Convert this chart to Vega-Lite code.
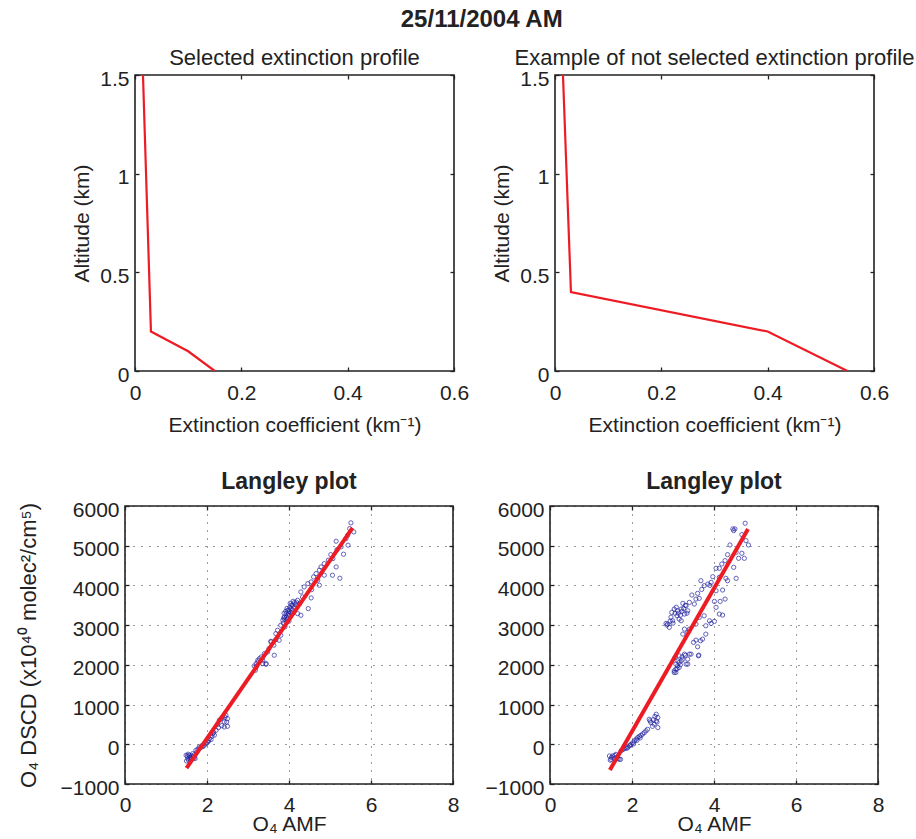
{
  "$schema": "https://vega.github.io/schema/vega-lite/v6.json",
  "background": "white",
  "padding": {"left": 16, "top": 8, "right": 0, "bottom": 0},
  "autosize": {"type": "pad"},
  "title": {"text": "25/11/2004 AM", "fontSize": 24, "fontWeight": "bold", "font": "Liberation Sans", "color": "#222222", "offset": 14, "anchor": "middle", "dx": 16},
  "spacing": 34,
  "config": {
    "view": {"stroke": null},
    "axis": {
      "domain": false, "grid": false,
      "labelFont": "Liberation Sans", "labelFontSize": 21, "labelColor": "#222222",
      "titleFont": "Liberation Sans", "titleFontSize": 21, "titleFontWeight": "normal", "titleColor": "#222222",
      "tickColor": "#222222", "tickSize": -4, "tickWidth": 1.3,
      "labelFlush": false, "labelOverlap": false,
      "gridDash": [1, 7], "gridColor": "#222222", "gridWidth": 1, "gridOpacity": 0.9
    },
    "axisX": {"labelPadding": 15},
    "axisY": {"labelPadding": 10, "labelOffset": 4},
    "title": {"font": "Liberation Sans", "color": "#222222", "fontSize": 22, "fontWeight": "normal", "offset": -2}
  },
  "datasets": {
    "profSel": [
      {"ext": 0.15, "alt": 0}, {"ext": 0.1, "alt": 0.1}, {"ext": 0.03, "alt": 0.2}, {"ext": 0.015, "alt": 1.5}
    ],
    "profNot": [
      {"ext": 0.55, "alt": 0}, {"ext": 0.4, "alt": 0.2}, {"ext": 0.03, "alt": 0.4}, {"ext": 0.015, "alt": 1.5}
    ],
    "fitL": [{"amf": 1.5, "dscd": -600}, {"amf": 5.55, "dscd": 5450}],
    "fitR": [{"amf": 1.46, "dscd": -650}, {"amf": 4.83, "dscd": 5420}],
    "scatL": [
      {"amf":1.49,"dscd":-277},{"amf":1.53,"dscd":-363},{"amf":1.57,"dscd":-277},{"amf":1.61,"dscd":-388},{"amf":1.65,"dscd":-237},{"amf":1.69,"dscd":-337},{"amf":1.52,"dscd":-300},{"amf":1.55,"dscd":-400},{"amf":1.58,"dscd":-330},{"amf":1.62,"dscd":-290},{"amf":1.66,"dscd":-310},{"amf":1.71,"dscd":-360},{"amf":1.73,"dscd":-151},{"amf":1.50,"dscd":-420},{"amf":1.60,"dscd":-350},{"amf":1.54,"dscd":-250},{"amf":1.68,"dscd":-270},{"amf":1.75,"dscd":-200},
      {"amf":1.78,"dscd":-120},{"amf":1.81,"dscd":-68},{"amf":1.85,"dscd":-80},{"amf":1.88,"dscd":-30},{"amf":1.93,"dscd":-25},{"amf":1.97,"dscd":10},{"amf":2.02,"dscd":58},{"amf":2.06,"dscd":141},{"amf":2.10,"dscd":120},{"amf":2.14,"dscd":267},{"amf":2.18,"dscd":230},{"amf":2.22,"dscd":353},{"amf":1.90,"dscd":-60},{"amf":1.99,"dscd":30},{"amf":2.04,"dscd":90},{"amf":2.12,"dscd":200},{"amf":2.16,"dscd":300},
      {"amf":2.26,"dscd":504},{"amf":2.30,"dscd":605},{"amf":2.34,"dscd":640},{"amf":2.38,"dscd":688},{"amf":2.42,"dscd":562},{"amf":2.42,"dscd":436},{"amf":2.46,"dscd":730},{"amf":2.50,"dscd":645},{"amf":2.50,"dscd":453},{"amf":2.48,"dscd":560},{"amf":2.36,"dscd":470},{"amf":2.28,"dscd":420},{"amf":2.44,"dscd":680},
      {"amf":3.15,"dscd":1972},{"amf":3.18,"dscd":1864},{"amf":3.20,"dscd":1947},{"amf":3.20,"dscd":2030},{"amf":3.24,"dscd":2073},{"amf":3.24,"dscd":2116},{"amf":3.28,"dscd":2156},{"amf":3.32,"dscd":2199},{"amf":3.36,"dscd":2030},{"amf":3.36,"dscd":2116},{"amf":3.40,"dscd":2282},{"amf":3.44,"dscd":2015},{"amf":3.44,"dscd":2030},{"amf":3.48,"dscd":2325},{"amf":3.51,"dscd":2408},{"amf":3.56,"dscd":2577},{"amf":3.56,"dscd":2594},{"amf":3.63,"dscd":2494},{"amf":3.64,"dscd":2242},{"amf":3.68,"dscd":2635},{"amf":3.68,"dscd":2786},{"amf":3.72,"dscd":2871},{"amf":3.76,"dscd":2620},{"amf":3.80,"dscd":2746},{"amf":3.80,"dscd":2997},{"amf":3.85,"dscd":3123},{"amf":3.89,"dscd":3207},{"amf":3.90,"dscd":2955},{"amf":3.93,"dscd":3290},{"amf":3.95,"dscd":3081},{"amf":3.97,"dscd":3375},{"amf":4.01,"dscd":3249},{"amf":4.05,"dscd":3416},{"amf":4.09,"dscd":3501},{"amf":4.13,"dscd":3567},{"amf":4.21,"dscd":3627},{"amf":4.21,"dscd":3290},{"amf":4.26,"dscd":3542},{"amf":4.29,"dscd":3836},{"amf":4.29,"dscd":3249},{"amf":4.33,"dscd":3710},{"amf":4.37,"dscd":3962},{"amf":4.46,"dscd":4046},{"amf":4.47,"dscd":3416},{"amf":4.54,"dscd":4088},{"amf":4.54,"dscd":3685},{"amf":4.55,"dscd":3894},{"amf":4.60,"dscd":4214},{"amf":4.66,"dscd":4298},{"amf":4.70,"dscd":4131},{"amf":4.74,"dscd":4383},{"amf":4.74,"dscd":4005},{"amf":4.78,"dscd":4466},{"amf":4.86,"dscd":4549},{"amf":4.86,"dscd":4257},{"amf":4.96,"dscd":4635},{"amf":5.02,"dscd":4776},{"amf":5.06,"dscd":4257},{"amf":5.07,"dscd":4675},{"amf":5.15,"dscd":5113},{"amf":5.15,"dscd":4466},{"amf":5.17,"dscd":4902},{"amf":5.24,"dscd":4181},{"amf":5.27,"dscd":4970},{"amf":5.33,"dscd":4786},{"amf":5.39,"dscd":5179},{"amf":5.43,"dscd":5264},{"amf":5.44,"dscd":5013},{"amf":5.48,"dscd":5431},{"amf":5.51,"dscd":5576},{"amf":5.58,"dscd":5348},
      {"amf":3.88,"dscd":3300},{"amf":3.92,"dscd":3350},{"amf":3.95,"dscd":3420},{"amf":3.98,"dscd":3250},{"amf":4.00,"dscd":3380},{"amf":4.02,"dscd":3450},{"amf":4.04,"dscd":3320},{"amf":4.06,"dscd":3500},{"amf":4.08,"dscd":3380},{"amf":3.90,"dscd":3150},{"amf":3.94,"dscd":3200},{"amf":3.96,"dscd":3150},{"amf":3.99,"dscd":3300},{"amf":4.03,"dscd":3550},{"amf":4.10,"dscd":3600},{"amf":4.12,"dscd":3450},{"amf":4.15,"dscd":3520},{"amf":4.18,"dscd":3580},{"amf":3.86,"dscd":3050},{"amf":3.87,"dscd":3180},{"amf":4.00,"dscd":3100},{"amf":4.07,"dscd":3280}
    ],
    "scatR": [
      {"amf":1.45,"dscd":-294},{"amf":1.49,"dscd":-378},{"amf":1.53,"dscd":-294},{"amf":1.61,"dscd":-252},{"amf":1.69,"dscd":-378},{"amf":1.73,"dscd":-168},{"amf":1.50,"dscd":-330},{"amf":1.56,"dscd":-350},{"amf":1.58,"dscd":-280},{"amf":1.64,"dscd":-320},{"amf":1.66,"dscd":-360},{"amf":1.72,"dscd":-380},{"amf":1.47,"dscd":-400},
      {"amf":1.78,"dscd":-130},{"amf":1.81,"dscd":-109},{"amf":1.85,"dscd":-90},{"amf":1.88,"dscd":-100},{"amf":1.90,"dscd":-68},{"amf":1.94,"dscd":-40},{"amf":1.96,"dscd":-20},{"amf":1.98,"dscd":0},{"amf":2.02,"dscd":40},{"amf":2.04,"dscd":10},{"amf":2.06,"dscd":84},{"amf":2.10,"dscd":130},{"amf":2.12,"dscd":100},{"amf":2.14,"dscd":168},{"amf":2.18,"dscd":200},{"amf":2.20,"dscd":160},{"amf":2.22,"dscd":227},{"amf":2.26,"dscd":260},{"amf":2.30,"dscd":295},{"amf":2.34,"dscd":340},{"amf":2.38,"dscd":378},
      {"amf":2.42,"dscd":630},{"amf":2.44,"dscd":590},{"amf":2.46,"dscd":547},{"amf":2.50,"dscd":450},{"amf":2.52,"dscd":620},{"amf":2.54,"dscd":504},{"amf":2.56,"dscd":700},{"amf":2.59,"dscd":757},{"amf":2.59,"dscd":588},{"amf":2.61,"dscd":560},{"amf":2.63,"dscd":673},{"amf":2.63,"dscd":421},
      {"amf":3.03,"dscd":1808},{"amf":3.03,"dscd":1849},{"amf":3.05,"dscd":2186},{"amf":3.07,"dscd":1892},{"amf":3.07,"dscd":1808},{"amf":3.07,"dscd":2018},{"amf":3.10,"dscd":1900},{"amf":3.11,"dscd":1975},{"amf":3.12,"dscd":2100},{"amf":3.15,"dscd":2061},{"amf":3.15,"dscd":1934},{"amf":3.15,"dscd":2228},{"amf":3.18,"dscd":2000},{"amf":3.20,"dscd":2101},{"amf":3.22,"dscd":2200},{"amf":3.24,"dscd":2144},{"amf":3.28,"dscd":2270},{"amf":3.30,"dscd":2240},{"amf":3.32,"dscd":2018},{"amf":3.36,"dscd":2018},{"amf":3.36,"dscd":2144},{"amf":3.40,"dscd":2270},{"amf":3.44,"dscd":2270},{"amf":3.62,"dscd":2228},{"amf":3.63,"dscd":2245},
      {"amf":2.83,"dscd":3044},{"amf":2.85,"dscd":3000},{"amf":2.87,"dscd":3026},{"amf":2.91,"dscd":2943},{"amf":2.93,"dscd":3100},{"amf":2.95,"dscd":3200},{"amf":2.97,"dscd":3321},{"amf":2.99,"dscd":3110},{"amf":3.00,"dscd":3050},{"amf":3.03,"dscd":3405},{"amf":3.05,"dscd":3300},{"amf":3.08,"dscd":3450},{"amf":3.10,"dscd":3236},{"amf":3.11,"dscd":3362},{"amf":3.13,"dscd":3300},{"amf":3.15,"dscd":3153},{"amf":3.18,"dscd":3250},{"amf":3.20,"dscd":3405},{"amf":3.20,"dscd":3110},{"amf":3.22,"dscd":3350},{"amf":3.24,"dscd":3548},{"amf":3.26,"dscd":3420},{"amf":3.28,"dscd":3279},{"amf":3.30,"dscd":3500},{"amf":3.32,"dscd":3488},{"amf":3.34,"dscd":3300},{"amf":3.36,"dscd":3362},{"amf":3.40,"dscd":3574},{"amf":3.46,"dscd":3758},{"amf":3.52,"dscd":3531},{"amf":3.56,"dscd":3657},{"amf":3.64,"dscd":3674},
      {"amf":3.24,"dscd":2774},{"amf":3.28,"dscd":2900},{"amf":3.36,"dscd":2817},{"amf":3.40,"dscd":2900},{"amf":3.50,"dscd":2565},{"amf":3.56,"dscd":2623},{"amf":3.60,"dscd":2455},{"amf":3.67,"dscd":2606},{"amf":3.72,"dscd":2648},{"amf":3.80,"dscd":2774},{"amf":3.56,"dscd":3026},{"amf":3.64,"dscd":3195},{"amf":3.76,"dscd":3236},{"amf":3.80,"dscd":2984},{"amf":3.89,"dscd":3110},{"amf":3.93,"dscd":3044},{"amf":4.01,"dscd":3095},{"amf":4.05,"dscd":3448},{"amf":4.13,"dscd":3279},{"amf":4.21,"dscd":3253},
      {"amf":3.60,"dscd":3800},{"amf":3.68,"dscd":4119},{"amf":3.70,"dscd":3900},{"amf":3.76,"dscd":3993},{"amf":3.85,"dscd":4035},{"amf":3.90,"dscd":4000},{"amf":3.93,"dscd":4078},{"amf":3.97,"dscd":4220},{"amf":4.05,"dscd":3866},{"amf":4.15,"dscd":3598},{"amf":4.01,"dscd":3598},{"amf":4.13,"dscd":4204},{"amf":4.21,"dscd":3884},{"amf":4.27,"dscd":3657},{"amf":4.05,"dscd":4431},{"amf":4.13,"dscd":4431},{"amf":4.19,"dscd":4540},{"amf":4.29,"dscd":4179},{"amf":4.33,"dscd":4119},{"amf":4.54,"dscd":4179},{"amf":4.27,"dscd":4624},{"amf":4.33,"dscd":4775},{"amf":4.48,"dscd":4456},{"amf":4.39,"dscd":5019},{"amf":4.54,"dscd":4835},{"amf":4.60,"dscd":4683},{"amf":4.68,"dscd":4809},{"amf":4.74,"dscd":4683},{"amf":4.46,"dscd":5423},{"amf":4.51,"dscd":5423},{"amf":4.48,"dscd":5380},{"amf":4.68,"dscd":5279},{"amf":4.76,"dscd":5566},{"amf":4.78,"dscd":5128},{"amf":4.84,"dscd":5019}
    ]
  },
  "vconcat": [
    {
      "spacing": 101,
      "bounds": "flush",
      "hconcat": [
        {"width": 7, "height": 296, "data": {"values": []}, "mark": "point"},
        {
          "width": 319, "height": 296,
          "view": {"stroke": "#222222", "strokeWidth": 1.6},
          "title": {"text": "Selected extinction profile"},
          "data": {"name": "profSel"},
          "resolve": {"axis": {"x": "independent", "y": "independent"}},
          "layer": [
            {
              "mark": {"type": "line", "color": "#ed1c24", "strokeWidth": 2.2, "clip": true},
              "encoding": {
                "x": {"field": "ext", "type": "quantitative", "scale": {"domain": [0, 0.6], "nice": false, "zero": false},
                      "axis": {"orient": "bottom", "title": "Extinction coefficient (km⁻¹)", "values": [0, 0.2, 0.4, 0.6], "format": "~g", "minExtent": 31, "maxExtent": 31, "titlePadding": 12}},
                "y": {"field": "alt", "type": "quantitative", "scale": {"domain": [0, 1.5], "nice": false, "zero": false},
                      "axis": {"orient": "left", "title": "Altitude (km)", "values": [0, 0.5, 1, 1.5], "format": "~g", "minExtent": 35, "maxExtent": 35, "titlePadding": 8}},
                "order": {"field": "alt", "type": "quantitative"}
              }
            },
            {
              "mark": {"type": "point", "opacity": 0},
              "encoding": {
                "x": {"field": "ext", "type": "quantitative", "axis": {"orient": "top", "labels": false, "title": null, "values": [0, 0.2, 0.4, 0.6]}},
                "y": {"field": "alt", "type": "quantitative", "axis": {"orient": "right", "labels": false, "title": null, "values": [0, 0.5, 1, 1.5]}}
              }
            }
          ]
        },
        {
          "width": 319, "height": 296,
          "view": {"stroke": "#222222", "strokeWidth": 1.6},
          "title": {"text": "Example of not selected extinction profile"},
          "data": {"name": "profNot"},
          "resolve": {"axis": {"x": "independent", "y": "independent"}},
          "layer": [
            {
              "mark": {"type": "line", "color": "#ed1c24", "strokeWidth": 2.2, "clip": true},
              "encoding": {
                "x": {"field": "ext", "type": "quantitative", "scale": {"domain": [0, 0.6], "nice": false, "zero": false},
                      "axis": {"orient": "bottom", "title": "Extinction coefficient (km⁻¹)", "values": [0, 0.2, 0.4, 0.6], "format": "~g", "minExtent": 31, "maxExtent": 31, "titlePadding": 12}},
                "y": {"field": "alt", "type": "quantitative", "scale": {"domain": [0, 1.5], "nice": false, "zero": false},
                      "axis": {"orient": "left", "title": "Altitude (km)", "values": [0, 0.5, 1, 1.5], "format": "~g", "minExtent": 35, "maxExtent": 35, "titlePadding": 8}},
                "order": {"field": "alt", "type": "quantitative"}
              }
            },
            {
              "mark": {"type": "point", "opacity": 0},
              "encoding": {
                "x": {"field": "ext", "type": "quantitative", "axis": {"orient": "top", "labels": false, "title": null, "values": [0, 0.2, 0.4, 0.6]}},
                "y": {"field": "alt", "type": "quantitative", "axis": {"orient": "right", "labels": false, "title": null, "values": [0, 0.5, 1, 1.5]}}
              }
            }
          ]
        }
      ]
    },
    {
      "spacing": 97,
      "bounds": "flush",
      "hconcat": [
        {"width": 1, "height": 278, "data": {"values": []}, "mark": "point"},
        {
          "width": 328, "height": 278,
          "view": {"stroke": "#222222", "strokeWidth": 1.6},
          "title": {"text": "Langley plot", "fontSize": 23, "fontWeight": "bold", "offset": 5},
          "resolve": {"axis": {"x": "independent", "y": "independent"}},
          "layer": [
            {
              "data": {"name": "scatL"},
              "mark": {"type": "point", "shape": "circle", "filled": false, "size": 18, "strokeWidth": 1, "color": "#2020a0", "clip": true},
              "encoding": {
                "x": {"field": "amf", "type": "quantitative", "scale": {"domain": [0, 8], "nice": false, "zero": false},
                      "axis": {"orient": "bottom", "title": "O₄ AMF", "values": [0, 2, 4, 6, 8], "format": "d", "grid": true, "labelPadding": 14, "minExtent": 29, "maxExtent": 29, "titlePadding": 0}},
                "y": {"field": "dscd", "type": "quantitative", "scale": {"domain": [-1000, 6000], "nice": false, "zero": false},
                      "axis": {"orient": "left", "title": "O₄ DSCD (x10⁴⁰ molec²/cm⁵)", "titleFontSize": 22, "values": [-1000, 0, 1000, 2000, 3000, 4000, 5000, 6000], "format": "d", "grid": true, "minExtent": 65, "maxExtent": 65, "titlePadding": 20}}
              }
            },
            {
              "data": {"name": "fitL"},
              "mark": {"type": "line", "color": "#ed1c24", "strokeWidth": 4, "clip": true},
              "encoding": {
                "x": {"field": "amf", "type": "quantitative", "axis": null},
                "y": {"field": "dscd", "type": "quantitative", "axis": null}
              }
            },
            {
              "data": {"name": "fitL"},
              "mark": {"type": "point", "opacity": 0},
              "encoding": {
                "x": {"field": "amf", "type": "quantitative", "axis": {"orient": "top", "labels": false, "title": null, "values": [0, 2, 4, 6, 8]}},
                "y": {"field": "dscd", "type": "quantitative", "axis": {"orient": "right", "labels": false, "title": null, "values": [-1000, 0, 1000, 2000, 3000, 4000, 5000, 6000]}}
              }
            }
          ]
        },
        {
          "width": 328, "height": 278,
          "view": {"stroke": "#222222", "strokeWidth": 1.6},
          "title": {"text": "Langley plot", "fontSize": 23, "fontWeight": "bold", "offset": 5},
          "resolve": {"axis": {"x": "independent", "y": "independent"}},
          "layer": [
            {
              "data": {"name": "scatR"},
              "mark": {"type": "point", "shape": "circle", "filled": false, "size": 18, "strokeWidth": 1, "color": "#2020a0", "clip": true},
              "encoding": {
                "x": {"field": "amf", "type": "quantitative", "scale": {"domain": [0, 8], "nice": false, "zero": false},
                      "axis": {"orient": "bottom", "title": "O₄ AMF", "values": [0, 2, 4, 6, 8], "format": "d", "grid": true, "labelPadding": 14, "minExtent": 29, "maxExtent": 29, "titlePadding": 0}},
                "y": {"field": "dscd", "type": "quantitative", "scale": {"domain": [-1000, 6000], "nice": false, "zero": false},
                      "axis": {"orient": "left", "title": null, "values": [-1000, 0, 1000, 2000, 3000, 4000, 5000, 6000], "format": "d", "grid": true}}
              }
            },
            {
              "data": {"name": "fitR"},
              "mark": {"type": "line", "color": "#ed1c24", "strokeWidth": 4, "clip": true},
              "encoding": {
                "x": {"field": "amf", "type": "quantitative", "axis": null},
                "y": {"field": "dscd", "type": "quantitative", "axis": null}
              }
            },
            {
              "data": {"name": "fitR"},
              "mark": {"type": "point", "opacity": 0},
              "encoding": {
                "x": {"field": "amf", "type": "quantitative", "axis": {"orient": "top", "labels": false, "title": null, "values": [0, 2, 4, 6, 8]}},
                "y": {"field": "dscd", "type": "quantitative", "axis": {"orient": "right", "labels": false, "title": null, "values": [-1000, 0, 1000, 2000, 3000, 4000, 5000, 6000]}}
              }
            }
          ]
        }
      ]
    }
  ]
}
